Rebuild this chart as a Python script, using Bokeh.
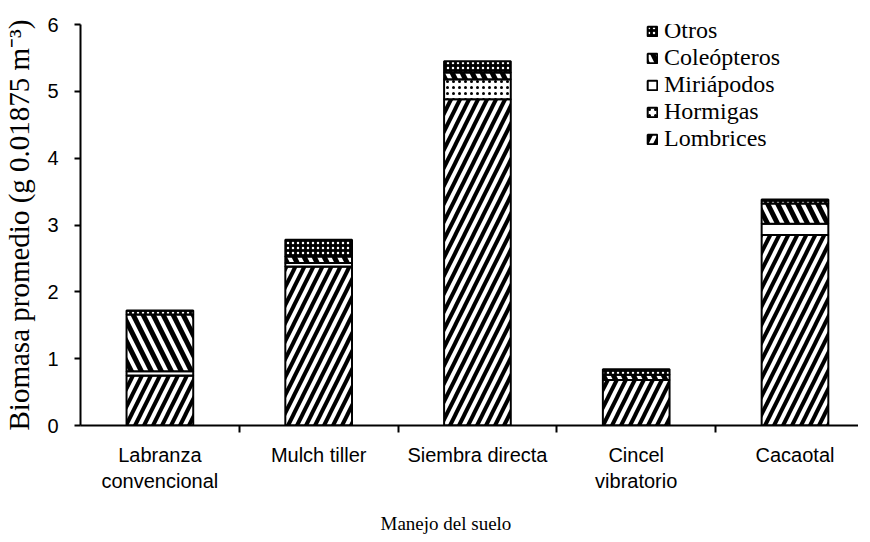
from bokeh.plotting import figure
from bokeh.models import ColumnDataSource, Range1d, FixedTicker, Legend, LegendItem, Title
from bokeh.embed import file_html
from bokeh.resources import INLINE

# ---- data ----
categories = ["Labranza\nconvencional", "Mulch tiller", "Siembra directa", "Cincel\nvibratorio", "Cacaotal"]
xs = [0, 1, 2, 3, 4]
lombrices = [0.75, 2.38, 4.88, 0.68, 2.85]
hormigas = [0.00, 0.00, 0.30, 0.00, 0.00]
miriapodos = [0.06, 0.05, 0.00, 0.00, 0.17]
coleopteros = [0.85, 0.10, 0.10, 0.08, 0.30]
otros = [0.06, 0.25, 0.17, 0.08, 0.06]
series_names = ["Lombrices", "Hormigas", "Miriápodos", "Coleópteros", "Otros"]
y_ticks = [0, 1, 2, 3, 4, 5, 6]
boundaries = [0.5, 1.5, 2.5, 3.5]

source = ColumnDataSource(dict(x=xs, Lombrices=lombrices, Hormigas=hormigas,
                               Miriápodos=miriapodos, Coleópteros=coleopteros, Otros=otros))

p = figure(frame_width=778, frame_height=401, x_range=Range1d(-0.5, 4.40), y_range=Range1d(0, 6),
           output_backend="svg", toolbar_location=None,
           min_border_left=80, min_border_right=0, min_border_top=24, min_border_bottom=0)
p.outline_line_color = None
p.grid.visible = False
p.background_fill_color = "white"
p.title.visible = False

renderers = p.vbar_stack(series_names, x="x", width=0.42, source=source,
                         fill_color=["white", "white", "white", "white", "black"],
                         hatch_color=["black", "black", "black", "black", "white"],
                         hatch_pattern=["right_diagonal_line", "dot", " ", "left_diagonal_line", "dot"],
                         hatch_scale=[18, 6, 6, 20, 5],
                         hatch_weight=[4, 3, 1, 5, 2],
                         line_color="black", line_width=2)

legend = Legend(items=[LegendItem(label=n, renderers=[r]) for n, r in reversed(list(zip(series_names, renderers)))],
                location=(566, 273), padding=10, margin=0, spacing=0,
                glyph_width=12, glyph_height=12, label_height=27, label_standoff=6,
                label_text_font="Liberation Serif", label_text_font_size="24px",
                label_text_color="black", border_line_color=None, background_fill_alpha=0)
p.add_layout(legend)

# y axis
ya = p.yaxis[0]
ya.ticker = FixedTicker(ticks=y_ticks)
ya.axis_label = "Biomasa promedio (g 0.01875 m\u207b\u00b3)"
ya.axis_label_text_font = "Liberation Serif"
ya.axis_label_text_font_style = "normal"
ya.axis_label_text_font_size = "29px"
ya.axis_label_text_color = "black"
ya.axis_label_standoff = 9
ya.major_label_text_font = "Liberation Sans"
ya.major_label_text_font_size = "20px"
ya.major_label_text_color = "black"
ya.major_label_standoff = 16
ya.major_tick_in = 0
ya.major_tick_out = 6
ya.minor_tick_line_color = None
ya.axis_line_width = 2
ya.major_tick_line_width = 2
ya.axis_line_color = "black"
ya.major_tick_line_color = "black"

# x axis
xa = p.xaxis[0]
xa.ticker = FixedTicker(ticks=xs, minor_ticks=boundaries)
xa.major_label_overrides = dict(zip(xs, categories))
xa.major_label_text_font = "Liberation Sans"
xa.major_label_text_font_size = "20px"
xa.major_label_text_color = "black"
xa.major_label_standoff = 11
xa.major_tick_line_color = None
xa.major_tick_out = 0
xa.major_tick_in = 0
xa.minor_tick_out = 7
xa.minor_tick_in = 0
xa.minor_tick_line_color = "black"
xa.minor_tick_line_width = 2
xa.axis_line_width = 2
xa.axis_line_color = "black"

p.add_layout(Title(text="Manejo del suelo", align="left", offset=300,
                   text_font="Liberation Serif", text_font_style="normal",
                   text_font_size="19px", text_color="black", standoff=32), "below")

open("out.html", "w").write(file_html(p, INLINE))
